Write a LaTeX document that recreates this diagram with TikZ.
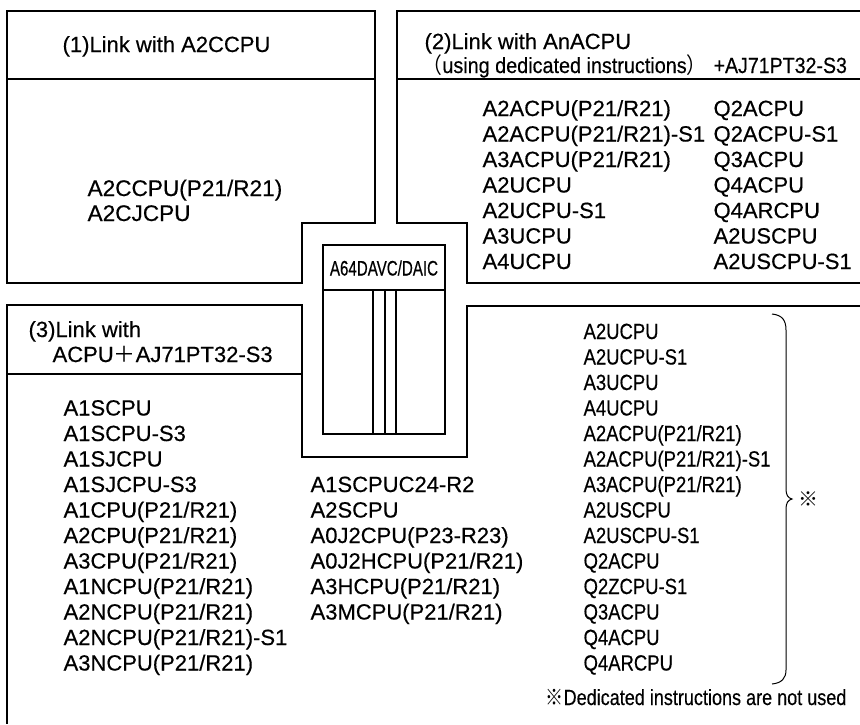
\documentclass[tikz,border=0pt]{standalone}
\usepackage{fontspec}
\usepackage{graphicx}
\setmainfont[FakeBold=0.4]{Liberation Sans}
\newfontfamily\cjk{Noto Sans CJK JP}
\newfontfamily\narrowfont[FakeStretch=0.72,FakeBold=0.4]{Liberation Sans}
\newfontfamily\rcolfont[FakeStretch=0.84,FakeBold=0.4]{Liberation Sans}
\begin{document}
\begin{tikzpicture}[x=1pt,y=-1pt,line width=1.2pt,
  txt/.style={anchor=base west,inner sep=0pt,font=\fontsize{22}{26}\selectfont},
  rtxt/.style={anchor=base west,inner sep=0pt,font=\rcolfont\fontsize{22}{26}\selectfont},
  brace/.style={line width=1pt}]
\useasboundingbox (0,0) rectangle (860,724);
% box 1
\draw (7,11) -- (375,11) -- (375,223) -- (302,223) -- (302,283) -- (7,283) -- cycle;
\draw (7,79) -- (375,79);
% box 2
\draw (860,11) -- (397,11) -- (397,223) -- (467,223) -- (467,283) -- (860,283);
\draw (397,79) -- (860,79);
% module
\draw (323,245) rectangle (445,434);
\draw (323,290) -- (445,290);
\draw (373,290) -- (373,434) (385,290) -- (385,434) (396,290) -- (396,434);
\node[inner sep=0pt,font=\narrowfont\fontsize{21}{24}\selectfont] (mod) at (384,268) {A64DAVC/DAIC};
% box 3
\draw (860,306) -- (467,306) -- (467,457) -- (302,457) -- (302,305) -- (7,305) -- (7,724);
\draw (7,374) -- (302,374);
% box 1 text
\node[txt] (h1) at (62,52) {(1)Link with A2CCPU};
\node[txt,font=\fontsize{22.6}{26}\selectfont] (a1) at (87,196) {A2CCPU(P21/R21)};
\node[txt,font=\fontsize{22.6}{26}\selectfont] (a2) at (87,221) {A2CJCPU};
% box 2 text
\node[txt] (h2a) at (424,49) {(2)Link with AnACPU};
\node[txt] (h2b) at (422,73) {\scalebox{0.9}[1]{{\cjk （}using dedicated instructions{\cjk ）}}};
\node[txt] (h2c) at (713,73) {\scalebox{0.89}[1]{+AJ71PT32-S3}};
\foreach \t [count=\i from 0] in {A2ACPU(P21/R21),A2ACPU(P21/R21)-S1,A3ACPU(P21/R21),A2UCPU,A2UCPU-S1,A3UCPU,A4UCPU}
  \node[txt] (bl\i) at (482,116+25.5*\i) {\t};
\foreach \t [count=\i from 0] in {Q2ACPU,Q2ACPU-S1,Q3ACPU,Q4ACPU,Q4ARCPU,A2USCPU,A2USCPU-S1}
  \node[txt] (br\i) at (713,116+25.5*\i) {\t};
% box 3 text
\node[txt] (h3a) at (28,337) {(3)Link with};
\node[txt] (h3b) at (52,362) {ACPU{\cjk ＋}AJ71PT32-S3};
\foreach \t [count=\i from 3] in {A1SCPU,A1SCPU-S3,A1SJCPU,A1SJCPU-S3,A1CPU(P21/R21),A2CPU(P21/R21),A3CPU(P21/R21),A1NCPU(P21/R21),A2NCPU(P21/R21),A2NCPU(P21/R21)-S1,A3NCPU(P21/R21)}
  \node[txt] (cl\i) at (63,339+25.5*\i) {\t};
\foreach \t [count=\i from 6] in {A1SCPUC24-R2,A2SCPU,A0J2CPU(P23-R23),A0J2HCPU(P21/R21),A3HCPU(P21/R21),A3MCPU(P21/R21)}
  \node[txt] (cm\i) at (310,339+25.5*\i) {\t};
\foreach \t [count=\i from 0] in {A2UCPU,A2UCPU-S1,A3UCPU,A4UCPU,A2ACPU(P21/R21),A2ACPU(P21/R21)-S1,A3ACPU(P21/R21),A2USCPU,A2USCPU-S1,Q2ACPU,Q2ZCPU-S1,Q3ACPU,Q4ACPU,Q4ARCPU}
  \node[rtxt] (cr\i) at (583,339+25.5*\i) {\t};
% brace
\draw[brace] (772,314) .. controls (782,315) and (786,320) .. (786,330)
  -- (786,489) .. controls (786,495) and (788,498) .. (792,499)
  .. controls (788,500) and (786,503) .. (786,509)
  -- (786,670) .. controls (786,678) and (782,683) .. (772,684);
\node[inner sep=0pt,font=\cjk\fontsize{20}{24}\selectfont] (mark) at (808,499) {※};
\node[txt] (foot) at (545,705) {\scalebox{0.82}[1]{{\cjk ※}Dedicated instructions are not used}};
\end{tikzpicture}
\end{document}
